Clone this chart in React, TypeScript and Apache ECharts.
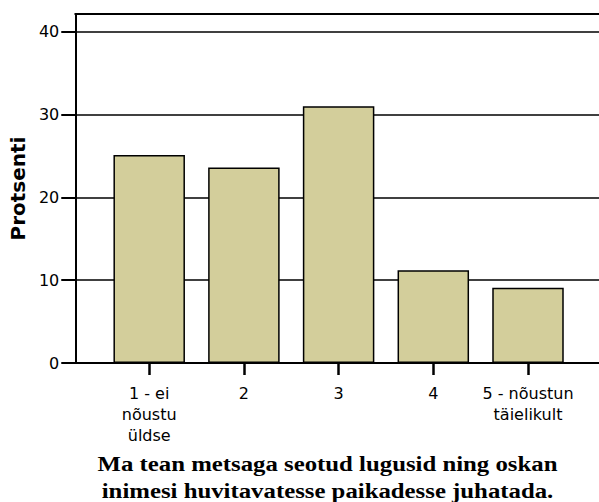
import React, { useEffect, useRef } from "react";
import * as echarts from "echarts";

const categories = ["1 - ei\nnõustu\nüldse", "2", "3", "4", "5 - nõustun\ntäielikult"];
const percents = [25.1, 23.6, 31.0, 11.2, 9.1];
const yTicks = [0, 10, 20, 30, 40];
const yAxisName = "Protsenti";
const titleLines = [
  "Ma tean metsaga seotud lugusid ning oskan",
  "inimesi huvitavatesse paikadesse juhatada.",
];

export default function App() {
  const ref = useRef<HTMLDivElement>(null);

  useEffect(() => {
    const chart = echarts.init(ref.current!, null, { renderer: "svg" });
    const sans = "DejaVu Sans";
    const yMax = 42.14;
    chart.setOption({
      animation: false,
      backgroundColor: "#ffffff",
      grid: [
        { left: 75, right: 0, top: 14, bottom: 139, containLabel: false },
        { left: 101.85, right: 23.65, top: 14, bottom: 139, containLabel: false },
      ],
      xAxis: [
        {
          gridIndex: 0,
          type: "value",
          position: "bottom",
          min: 0,
          max: 1,
          axisLine: { show: true, onZero: false, lineStyle: { color: "#000", width: 2 } },
          axisTick: { show: false },
          axisLabel: { show: false },
          splitLine: { show: false },
        },
        {
          gridIndex: 0,
          type: "value",
          position: "top",
          min: 0,
          max: 1,
          axisLine: { show: true, onZero: false, lineStyle: { color: "#000", width: 2 } },
          axisTick: { show: false },
          axisLabel: { show: false },
          splitLine: { show: false },
        },
        {
          gridIndex: 1,
          type: "category",
          position: "bottom",
          data: categories,
          z: 10,
          axisLine: { show: false },
          axisTick: {
            show: true,
            alignWithLabel: true,
            inside: false,
            length: 12,
            lineStyle: { color: "#000000", width: 2.5, opacity: 1 },
          },
          axisLabel: {
            show: true,
            interval: 0,
            margin: 20,
            color: "#000",
            fontFamily: sans,
            fontSize: 16,
            lineHeight: 21,
            align: "center",
          },
          splitLine: { show: false },
        },
      ],
      yAxis: [
        {
          gridIndex: 0,
          type: "value",
          min: 0,
          max: yMax,
          interval: 10,
          name: yAxisName,
          nameLocation: "middle",
          nameGap: 42,
          nameTextStyle: { fontFamily: sans, fontWeight: "bold", fontSize: 20, color: "#000" },
          axisLine: { show: true, lineStyle: { color: "#000", width: 2 } },
          axisTick: {
            show: true,
            customValues: yTicks,
            length: 14,
            lineStyle: { color: "#000", width: 2 },
          },
          axisLabel: {
            show: true,
            customValues: yTicks,
            margin: 16,
            color: "#000",
            fontFamily: sans,
            fontSize: 16,
          },
          splitLine: { show: true, lineStyle: { color: "#000", width: 1.6 } },
        },
        {
          gridIndex: 1,
          type: "value",
          min: 0,
          max: yMax,
          show: false,
        },
      ],
      series: [
        {
          type: "bar",
          xAxisIndex: 2,
          yAxisIndex: 1,
          barWidth: 71.5,
          data: percents,
          itemStyle: { color: "#d3ce9b", borderColor: "#000", borderWidth: 1.5 },
        },
      ],
      graphic: [
        {
          type: "text",
          x: 327.5,
          y: 450.1,
          scaleX: 1.127,
          style: {
            text: titleLines.join("\n"),
            fontFamily: "Liberation Serif",
            fontWeight: "bold",
            fontSize: 22,
            lineHeight: 27,
            fill: "#000",
            align: "center",
            verticalAlign: "top",
          },
        },
      ],
    });
    return () => chart.dispose();
  }, []);

  return (
    <div
      ref={ref}
      style={{ position: "absolute", left: 0, top: 0, width: 599, height: 502, background: "#fff" }}
    />
  );
}
